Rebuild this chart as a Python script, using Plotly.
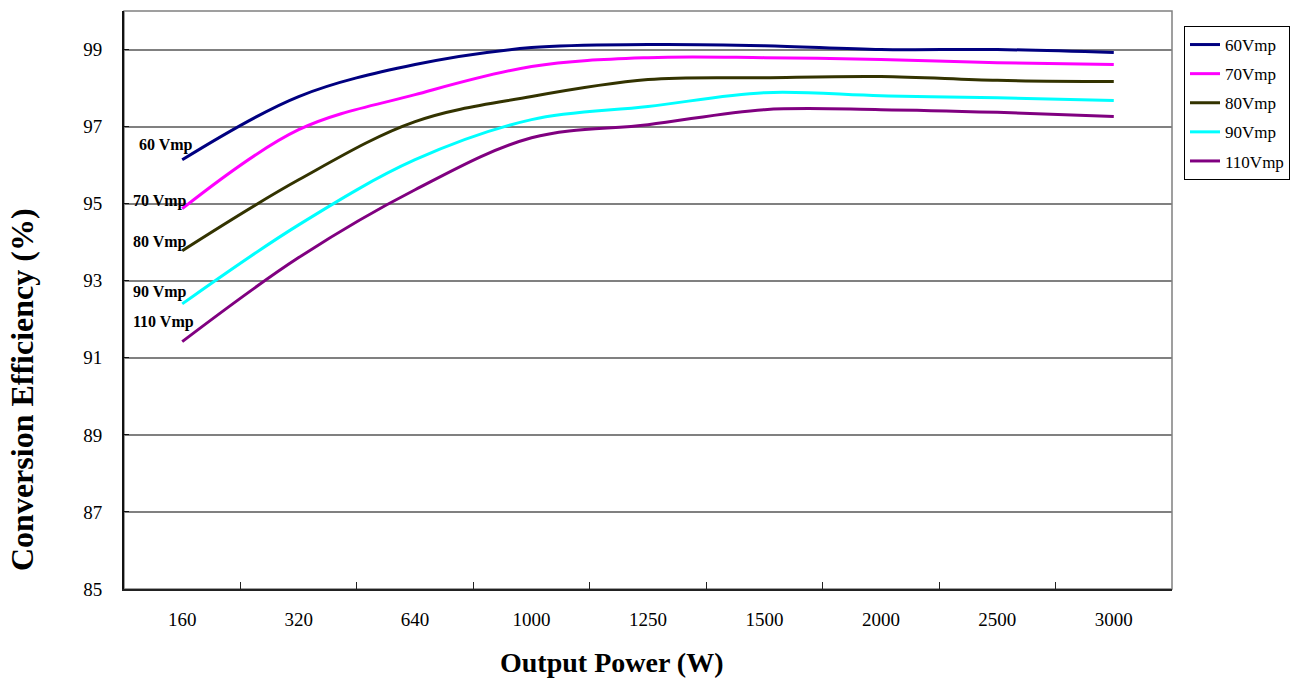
import plotly.graph_objects as go

power_labels = ["160", "320", "640", "1000", "1250", "1500", "2000", "2500", "3000"]
series_names = ["60Vmp", "70Vmp", "80Vmp", "90Vmp", "110Vmp"]
eff_60 = [96.14, 97.78, 98.61, 99.05, 99.13, 99.10, 99.00, 99.00, 98.92]
eff_70 = [94.87, 96.92, 97.83, 98.56, 98.79, 98.79, 98.74, 98.66, 98.61]
eff_80 = [93.78, 95.62, 97.13, 97.78, 98.22, 98.27, 98.30, 98.20, 98.17]
eff_90 = [92.40, 94.45, 96.14, 97.18, 97.52, 97.88, 97.80, 97.75, 97.68]
eff_110 = [91.42, 93.60, 95.36, 96.71, 97.05, 97.44, 97.44, 97.37, 97.26]
colors = ["#000080", "#FF00FF", "#333300", "#00FFFF", "#800080"]
label_texts = ["60 Vmp", "70 Vmp", "80 Vmp", "90 Vmp", "110 Vmp"]
label_y = [96.51, 95.08, 94.01, 92.71, 91.94]
y_ticks = [85, 87, 89, 91, 93, 95, 97, 99]

series = [eff_60, eff_70, eff_80, eff_90, eff_110]

# body margin is removed by post_script, so figure origin is the page origin
PL, PR, PT, PB = 124, 1172, 11, 589  # plot area in page pixels
FW, FH = 1301, 679
PW, PH = PR - PL, PB - PT

def px_x(px):
    return (px - PL) / PW

def px_y(py):
    return 1 - (py - PT) / PH

fig = go.Figure()
for name, vals, col in zip(series_names, series, colors):
    fig.add_trace(go.Scatter(
        x=power_labels, y=vals, name=name, mode="lines",
        line=dict(color=col, width=3, shape="spline", smoothing=1.0),
        legendgroup=name,
    ))

label_px = [137, 131, 131, 131, 131]
for txt, yy, lx in zip(label_texts, label_y, label_px):
    fig.add_annotation(text=txt, xref="paper", yref="y", x=px_x(lx), y=yy,
                       xanchor="left", yanchor="middle", showarrow=False,
                       font=dict(family="Liberation Serif", size=16, color="black", weight="bold"))

# axis titles
fig.add_annotation(text="<b>Output Power (W)</b>", xref="paper", yref="paper",
                   x=px_x(611), y=px_y(662), xanchor="center", yanchor="middle",
                   showarrow=False, font=dict(family="Liberation Serif", size=28, color="black"))
fig.add_annotation(text="<b>Conversion Efficiency (%)</b>", xref="paper", yref="paper",
                   x=px_x(22), y=px_y(390), xanchor="center", yanchor="middle",
                   textangle=-90, showarrow=False,
                   font=dict(family="Liberation Serif", size=32, color="black"))

# gray frame around plot area
fig.add_shape(type="rect", xref="paper", yref="paper", x0=0, y0=0, x1=1, y1=1,
              line=dict(color="#808080", width=1.5), layer="below")

fig.update_layout(
    width=FW, height=FH,
    margin=dict(l=PL, r=FW - PR, t=PT, b=FH - PB, autoexpand=False),
    paper_bgcolor="white", plot_bgcolor="white",
    font=dict(family="Liberation Serif", size=19, color="black"),
    showlegend=True,
    legend=dict(x=px_x(1184), y=px_y(26), xanchor="left", yanchor="top",
                bordercolor="black", borderwidth=1, bgcolor="white",
                font=dict(family="Liberation Serif", size=17, color="black"),
                traceorder="grouped", tracegroupgap=4, itemwidth=30),
    xaxis=dict(type="category", range=[-0.5, 8.5], showgrid=False, showline=True,
               linecolor="#222222", linewidth=2,
               ticks="inside", tickson="boundaries", ticklen=7, tickcolor="#222222", tickwidth=1,
               zeroline=False, tickfont=dict(size=19), ticklabelstandoff=12),
    yaxis=dict(range=[85, 100], tickvals=y_ticks, showgrid=True, gridcolor="#808080", gridwidth=1.5,
               showline=True, linecolor="#111111", linewidth=2, ticks="inside", ticklen=5,
               tickcolor="#111111", zeroline=False, tickfont=dict(size=19), ticklabelstandoff=16),
)

fig.write_html("out.html", config={"displayModeBar": False},
               post_script="document.body.style.margin='0';document.body.style.overflow='hidden';")
